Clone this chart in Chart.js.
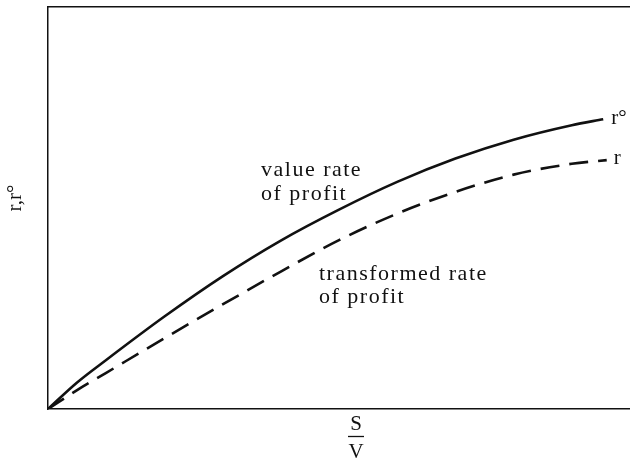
<!DOCTYPE html>
<html>
<head>
<meta charset="utf-8">
<script src="https://cdn.jsdelivr.net/npm/chart.js@4/dist/chart.umd.min.js"></script>
<style>
html,body{margin:0;padding:0;background:#fff;}
#wrap{width:630px;height:463px;position:relative;}
</style>
</head>
<body>
<div id="wrap"><canvas id="c" width="630" height="463"></canvas></div>
<script>
// S/V values (x) and rates (y)
const valueX = [0, 5, 10, 20, 30, 40, 50, 60, 70, 80, 90, 95.4];
const valueRate = [0, 6.6, 12.2, 23.0, 33.0, 41.9, 49.6, 56.5, 62.3, 67.0, 70.6, 72.1];
const transX = [0, 5, 10, 20, 30, 40, 50, 60, 70, 80, 90, 96];
const transRate = [0, 4.7, 9.0, 17.6, 26.0, 34.2, 42.0, 48.6, 54.0, 58.3, 61.0, 61.9];
const seriesNames = ["value rate of profit", "transformed rate of profit"];
const endLabels = ["r°", "r"];
const yTitle = "r,r°";

const FONT = '"Liberation Serif", "Times New Roman", serif';
const INK = '#111';

const textPlugin = {
  id: 'texts',
  afterDraw(chart) {
    const ctx = chart.ctx;
    const xs = chart.scales.x, ys = chart.scales.y;
    ctx.save();
    ctx.fillStyle = INK;
    ctx.textBaseline = 'alphabetic';
    ctx.textAlign = 'left';
    ctx.font = '22px ' + FONT;
    try { ctx.letterSpacing = '1.5px'; } catch (e) {}
    // series annotations
    ctx.fillText('value rate', 261, 176);
    ctx.fillText('of profit', 261, 200);
    ctx.fillText('transformed rate', 319, 280);
    ctx.fillText('of profit', 319, 303);
    try { ctx.letterSpacing = '0px'; } catch (e) {}
    ctx.font = '21px ' + FONT;
    // end labels
    const vEnd = valueX.length - 1, tEnd = transX.length - 1;
    const vx = xs.getPixelForValue(valueX[vEnd]), vy = ys.getPixelForValue(valueRate[vEnd]);
    const tx = xs.getPixelForValue(transX[tEnd]), ty = ys.getPixelForValue(transRate[tEnd]);
    ctx.fillText(endLabels[0], vx + 8, vy + 5);
    ctx.fillText(endLabels[1], tx + 7, ty + 4);
    // x axis title: fraction S over V
    const cx = 356;
    ctx.textAlign = 'center';
    ctx.fillText('S', cx, 430);
    ctx.fillText('V', cx, 458);
    ctx.strokeStyle = INK;
    ctx.lineWidth = 1.3;
    ctx.beginPath();
    ctx.moveTo(cx - 8, 436.5);
    ctx.lineTo(cx + 8, 436.5);
    ctx.stroke();
    // y axis title
    ctx.translate(21, 198);
    ctx.rotate(-Math.PI / 2);
    ctx.textAlign = 'center';
    ctx.fillText(yTitle, 0, 0);
    ctx.restore();
  }
};

const mk = (xa, ya) => xa.map((x, i) => ({x: x, y: ya[i]}));

new Chart(document.getElementById('c'), {
  type: 'line',
  data: {
    datasets: [
      { label: seriesNames[0], data: mk(valueX, valueRate), borderColor: INK, borderWidth: 2.6,
        pointRadius: 0, fill: false, cubicInterpolationMode: 'monotone' },
      { label: seriesNames[1], data: mk(transX, transRate), borderColor: INK, borderWidth: 2.6,
        borderDash: [19, 10], pointRadius: 0, fill: false, cubicInterpolationMode: 'monotone' }
    ]
  },
  options: {
    responsive: false,
    animation: false,
    devicePixelRatio: 1,
    layout: { padding: 0 },
    plugins: { legend: { display: false }, tooltip: { enabled: false } },
    scales: {
      x: { type: 'linear', min: 0, max: 100, position: 'bottom',
        ticks: { display: false }, grid: { display: false, drawTicks: false },
        border: { display: true, color: INK, width: 1.5 },
        afterFit(s) { s.height = 54; } },
      xTop: { type: 'linear', min: 0, max: 100, position: 'top',
        ticks: { display: false }, grid: { display: false, drawTicks: false },
        border: { display: true, color: INK, width: 1.5 },
        afterFit(s) { s.height = 7; } },
      y: { type: 'linear', min: 0, max: 100, position: 'left',
        ticks: { display: false }, grid: { display: false, drawTicks: false },
        border: { display: true, color: INK, width: 1.5 },
        afterFit(s) { s.width = 48; } }
    }
  },
  plugins: [textPlugin]
});
</script>
</body>
</html>
